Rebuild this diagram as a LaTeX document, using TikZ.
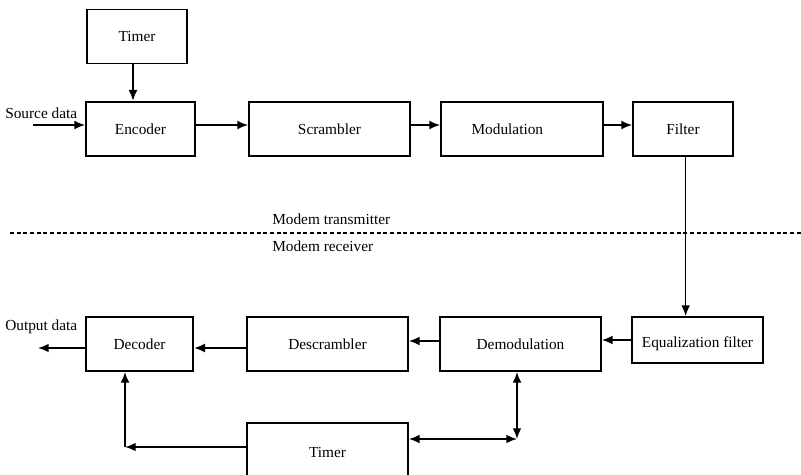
\documentclass[tikz,border=0pt]{standalone}
\usepackage{fontspec}
\setmainfont{Liberation Serif}
\usetikzlibrary{arrows.meta}
\begin{document}
\begin{tikzpicture}[x=0.75pt,y=-0.75pt,
  blk/.style={draw,line width=1.3pt,minimum height=40.5pt,inner sep=0pt,font=\fontsize{11.5}{13}\selectfont},
  lbl/.style={inner sep=0pt,font=\fontsize{11.5}{13}\selectfont},
  arr/.style={line width=1.2pt,-{Latex[length=8pt,width=6.5pt]}},
  darr/.style={line width=1.2pt,{Latex[length=8pt,width=6.5pt]}-{Latex[length=8pt,width=6.5pt]}},
  thk/.style={line width=2pt,-{Latex[length=8.5pt,width=7pt]}}]
\useasboundingbox (0,0) rectangle (801,475);
% top row
\node[blk,minimum width=75pt] (tim1) at (137,36.5) {Timer};
\node[blk,minimum width=81.75pt] (enc) at (140.5,129) {Encoder};
\node[blk,minimum width=120.75pt] (scr) at (329.5,129) {Scrambler};
\node[blk,minimum width=121.5pt] (mod) at (522,129) {\hspace*{-22pt}Modulation};
\node[blk,minimum width=75pt] (filt) at (683,129) {Filter};
\node[lbl,anchor=west] (src) at (5,113) {Source data};
\coordinate (srcin) at (33,125);
% separator
\draw[line width=0.9pt,dash pattern=on 3pt off 2pt] (10,233) -- (801,233);
\node[lbl,anchor=west] (tx) at (272,219) {Modem transmitter};
\node[lbl,anchor=west] (rx) at (272,246) {Modem receiver};
% bottom row
\node[blk,minimum width=80.25pt] (dec) at (139.5,344) {Decoder};
\node[blk,minimum width=120.75pt] (desc) at (327.5,344) {Descrambler};
\node[blk,minimum width=120.75pt] (demod) at (520.5,344) {Demodulation};
\node[blk,minimum width=98.25pt,minimum height=34.5pt,text height=11pt,text depth=0pt] (eq) at (697.5,340) {Equalization filter};
\node[blk,minimum width=120.75pt,minimum height=40.5pt,text height=11pt,text depth=0pt] (tim2) at (327.5,450) {Timer};
\node[lbl,anchor=west] (out) at (5,327) {Output data};
\coordinate (outend) at (38,348);
\coordinate (c1) at (125,447);
\coordinate (c2) at (517,439);
% connectors top
\draw[thk] ([xshift=-3pt]tim1.south) -- ([xshift=-3pt]tim1.south |- enc.north);
\draw[arr] (srcin) -- (srcin -| enc.west);
\draw[arr] ([yshift=3pt]enc.east) -- ([yshift=3pt]scr.west);
\draw[arr] ([yshift=3pt]scr.east) -- ([yshift=3pt]mod.west);
\draw[arr] ([yshift=3pt]mod.east) -- ([yshift=3pt]filt.west);
\draw[arr] ([xshift=2pt]filt.south) -- ([xshift=2pt]filt.south |- eq.north);
% connectors bottom
\draw[arr] (eq.west) -- (eq.west -| demod.east);
\draw[arr] ([yshift=2.25pt]demod.west) -- ([yshift=2.25pt]desc.east);
\draw[thk] ([yshift=-3pt]desc.west) -- ([yshift=-3pt]dec.east);
\draw[arr] ([yshift=-3pt]dec.west) -- (outend);
\draw[arr] (c1 -| tim2.west) -- (c1);
\draw[arr] (c1) -- (c1 |- dec.south);
\draw[darr] (c2 -| tim2.east) -- (c2);
\draw[darr] (c2) -- (c2 |- demod.south);
\end{tikzpicture}
\end{document}
